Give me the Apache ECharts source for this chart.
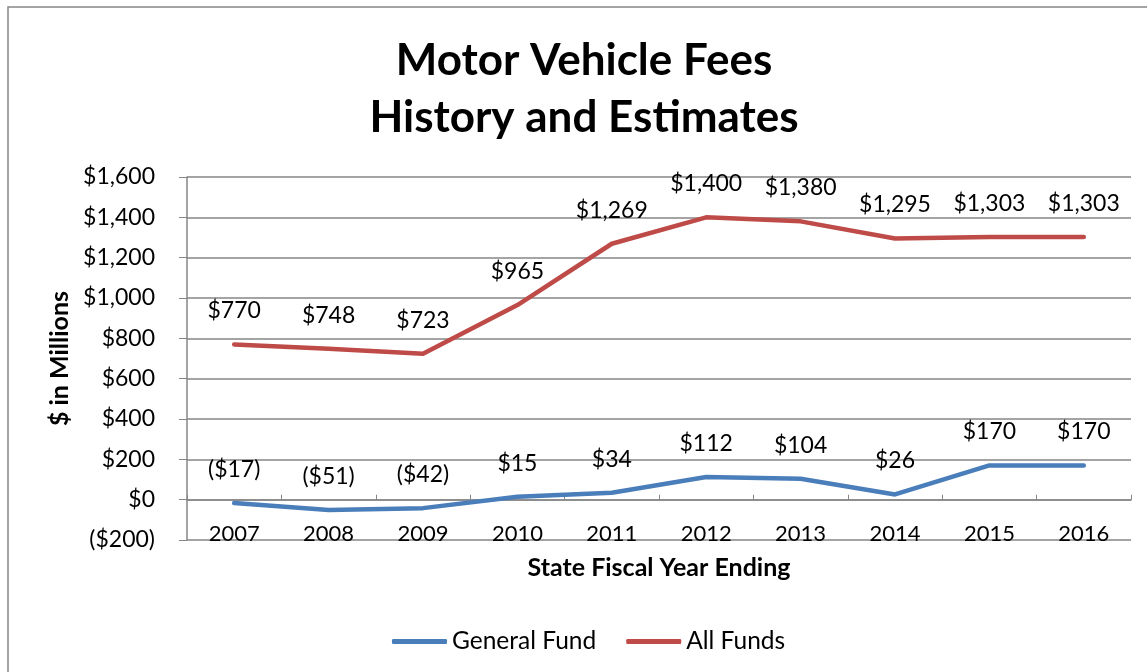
<!DOCTYPE html>
<html>
<head>
<meta charset="utf-8">
<script src="https://cdn.jsdelivr.net/npm/echarts@6/dist/echarts.min.js"></script>
<style>
  html, body { margin: 0; padding: 0; background: #fff; }
  #chart { width: 1147px; height: 672px; }
</style>
</head>
<body>
<div id="chart"></div>
<script>
// chart data
const years = ['2007', '2008', '2009', '2010', '2011', '2012', '2013', '2014', '2015', '2016'];
const generalFund = [-17, -51, -42, 15, 34, 112, 104, 26, 170, 170];
const allFunds = [770, 748, 723, 965, 1269, 1400, 1380, 1295, 1303, 1303];

const FONT = 'Lato, "Open Sans", sans-serif';

// $1,234 or ($17) for negatives
function money(v) {
  const s = '$' + Math.abs(v).toLocaleString('en-US');
  return v < 0 ? '(' + s + ')' : s;
}

const chart = echarts.init(document.getElementById('chart'));

function lineSeries(name, data, color) {
  return {
    name: name,
    type: 'line',
    data: data,
    symbol: 'circle',
    symbolSize: 0.1,
    showSymbol: true,
    lineStyle: { color: color, width: 4.5, cap: 'round' },
    itemStyle: { color: color },
    label: {
      show: true,
      position: 'top',
      distance: 22,
      fontFamily: FONT,
      fontSize: 23,
      color: '#000',
      formatter: p => money(p.value)
    },
    emphasis: { disabled: true }
  };
}

chart.setOption({
  animation: false,
  backgroundColor: '#fff',
  graphic: [{
    type: 'rect',
    shape: { x: 8, y: 7, width: 1160, height: 700 },
    style: { fill: 'none', stroke: '#868686', lineWidth: 1.5 },
    z: -1
  }],
  title: {
    text: 'Motor Vehicle Fees\nHistory and Estimates',
    left: 579,
    textAlign: 'center',
    top: 27,
    textStyle: {
      fontFamily: FONT,
      fontWeight: 'bold',
      fontSize: 44,
      lineHeight: 57,
      color: '#000'
    }
  },
  legend: {
    data: ['General Fund', 'All Funds'],
    top: 624,
    left: 387,
    icon: 'roundRect',
    itemWidth: 55,
    itemHeight: 5,
    itemGap: 30,
    textStyle: { fontFamily: FONT, fontSize: 24.5, color: '#000' }
  },
  grid: { left: 187, right: 16, top: 177, bottom: 132 },
  xAxis: {
    type: 'category',
    data: years,
    boundaryGap: true,
    // category axis crosses the value axis at $0
    offset: -40.25,
    name: 'State Fiscal Year Ending',
    nameLocation: 'middle',
    nameGap: 56,
    nameTextStyle: { fontFamily: FONT, fontWeight: 'bold', fontSize: 25, color: '#000' },
    axisLine: { onZero: false, lineStyle: { color: '#868686', width: 1.5 } },
    axisTick: { show: true, inside: true, length: 5, lineStyle: { color: '#868686' } },
    axisLabel: { margin: 23, fontFamily: FONT, fontSize: 22, color: '#000' }
  },
  yAxis: {
    type: 'value',
    min: -200,
    max: 1600,
    interval: 200,
    name: '$ in Millions',
    nameLocation: 'middle',
    nameGap: 114,
    nameTextStyle: { fontFamily: FONT, fontWeight: 'bold', fontSize: 25, color: '#000' },
    axisLine: { show: true, lineStyle: { color: '#868686', width: 1.5 } },
    axisTick: { show: true, length: 8, lineStyle: { color: '#868686' } },
    axisLabel: {
      margin: 32,
      fontFamily: FONT,
      fontSize: 23,
      color: '#000',
      formatter: v => money(v)
    },
    splitLine: { lineStyle: { color: '#868686', width: 1.5 } }
  },
  series: [
    lineSeries('General Fund', generalFund, '#4A7EBB'),
    lineSeries('All Funds', allFunds, '#BE4B48')
  ]
});
</script>
</body>
</html>
